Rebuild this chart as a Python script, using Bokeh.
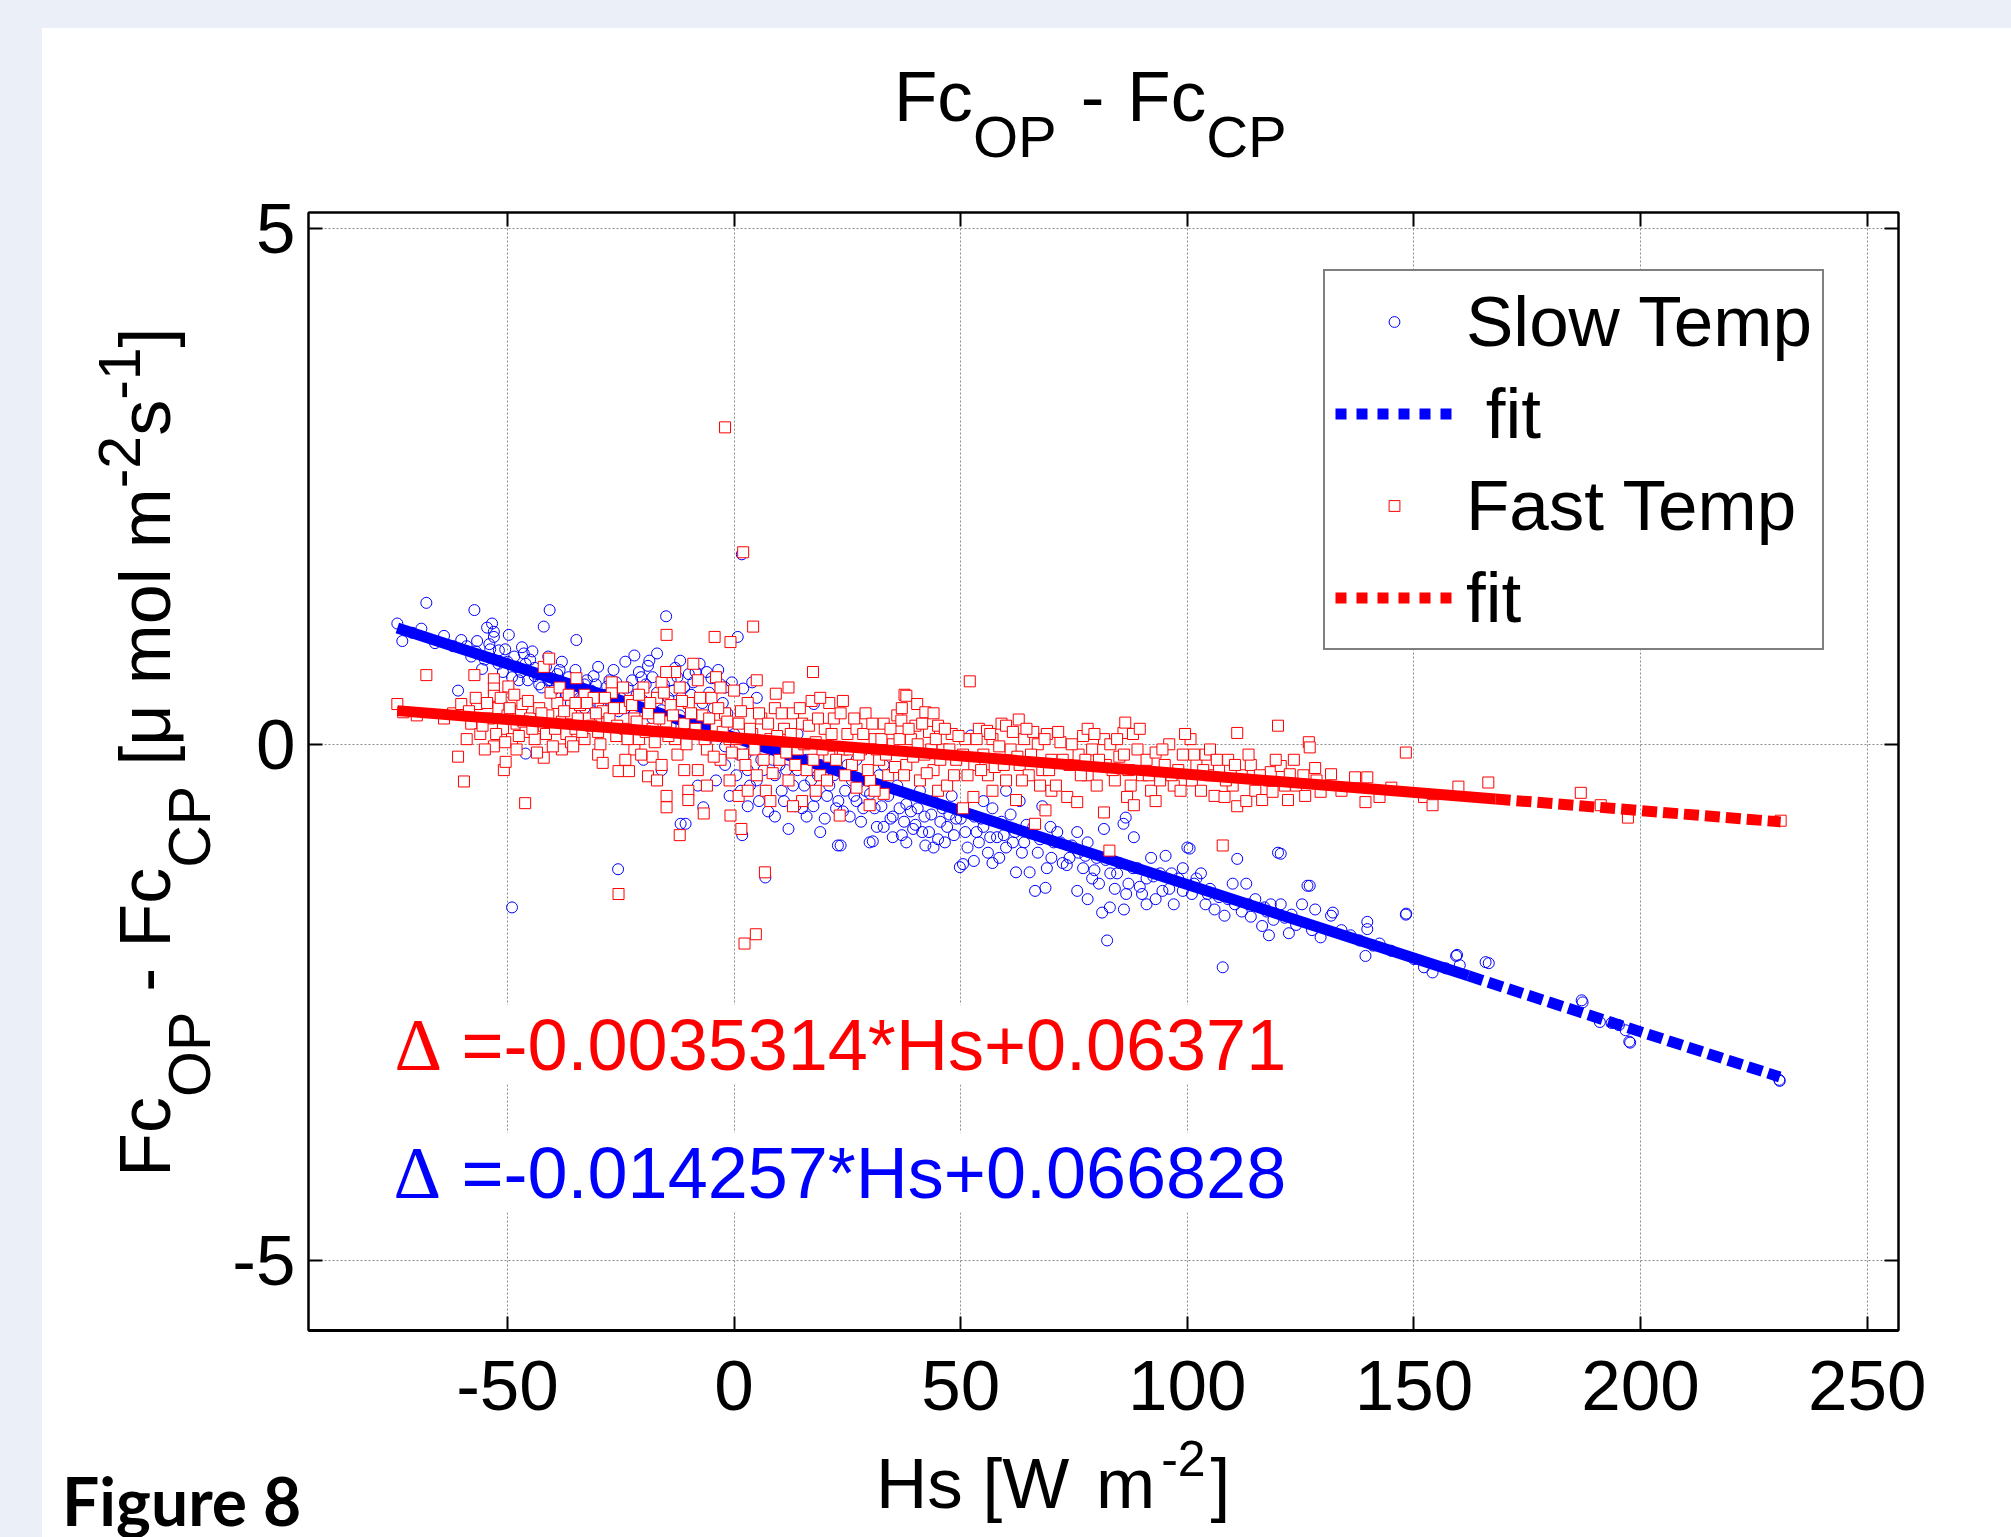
from bokeh.plotting import figure
from bokeh.models import (Label, LinearAxis, FixedTicker, Range1d, Legend, LegendItem,
                          ColumnDataSource, Div)
from bokeh.layouts import column, row
from bokeh.embed import file_html
from bokeh.resources import INLINE

# ---------------- data ----------------
# Slow Temp: (Hs [W m-2], Fc_OP - Fc_CP [umol m-2 s-1])
slow_temp = [
    (-74.3, 1.17), (-73.2, 1.00), (-71.0, 1.08), (-69.0, 1.12), (-67.9, 1.37), (-66.0, 0.98),
    (-64.0, 1.05), (-62.0, 0.95), (-60.9, 0.52), (-60.2, 1.01),
    (-59.0, 0.95), (-58.0, 0.85), (-57.3, 1.30), (-57.0, 0.90), (-56.7, 1.00), (-55.6, 0.73),
    (-55.0, 0.82), (-54.5, 1.13), (-54.0, 0.97), (-53.8, 0.92), (-53.4, 1.17), (-53.0, 1.09),
    (-53.0, 1.04), (-52.0, 0.78), (-51.9, 0.91), (-51.0, 0.70), (-50.0, 0.80), (-49.7, 1.06),
    (-49.0, 0.65), (-49.0, -1.58), (-48.0, 0.75), (-47.0, 0.70), (-46.8, 0.94), (-46.4, 0.88),
    (-46.0, -0.09), (-45.5, 0.62), (-45.0, 0.82), (-44.0, 0.74),
    (-44.0, 0.66), (-43.0, 0.58), (-42.0, 0.71), (-42.0, 1.14), (-41.0, 0.62), (-41.0, 0.85),
    (-40.7, 1.30), (-40.0, 0.52), (-39.0, 0.68), (-38.0, 0.60), (-38.0, 0.80), (-37.0, 0.48),
    (-36.0, 0.55), (-36.0, 0.40), (-35.0, 0.72), (-34.8, 1.01), (-34.0, 0.45), (-33.0, 0.58),
    (-33.0, 0.35), (-32.0, 0.50), (-31.0, 0.66), (-30.0, 0.40), (-30.0, 0.75), (-29.0, 0.47),
    (-28.0, 0.56), (-27.0, 0.36), (-26.0, 0.60), (-25.6, -1.21), (-25.0, 0.45),
    (-26.6, 0.72), (-24.0, 0.80), (-24.0, 0.35), (-22.0, 0.86), (-22.0, 0.30), (-21.0, 0.70),
    (-20.0, 0.42), (-20.0, -0.15), (-19.0, 0.76), (-18.7, 0.81), (-18.0, 0.25), (-17.0, 0.88),
    (-16.0, 0.33), (-16.0, -0.25), (-15.0, 1.24), (-14.0, 0.62), (-14.0, 0.18), (-13.0, 0.74),
    (-12.0, 0.28), (-11.9, 0.81), (-11.8, -0.77), (-10.7, -0.77), (-10.0, 0.68), (-10.0, 0.10),
    (-9.0, 0.60), (-8.0, 0.22), (-8.0, -0.40), (-7.6, 0.78), (-6.8, -0.61), (-6.0, 0.70),
    (-6.0, 0.05), (-5.0, 0.64), (-4.0, 0.15), (-4.0, -0.35), (-3.0, 0.58), (-2.0, 0.55),
    (-2.0, -0.02), (-2.0, -0.20), (-1.0, -0.50), (0.0, 0.10),
    (0.8, 1.04), (1.0, -0.10), (1.7, 1.84), (1.8, -0.88), (2.0, 0.54), (2.0, 0.05), (3.0, -0.25),
    (3.0, -0.60), (4.0, 0.60), (4.0, -0.05), (5.0, 0.45), (5.0, -0.35), (6.0, -0.15), (6.9, -1.29),
    (7.0, -0.45), (8.0, 0.00), (9.0, -0.30), (9.0, -0.70), (10.0, -0.20), (11.0, -0.55),
    (12.0, -0.10), (12.0, -0.82), (13.0, -0.40), (14.0, -0.25), (14.0, 0.10), (15.0, -0.62),
    (16.0, -0.15), (16.0, -0.70), (17.0, -0.35), (17.6, 0.39), (18.0, -0.50), (19.0, -0.20),
    (19.0, -0.85), (20.0, -0.72), (21.0, -0.40), (21.0, -0.05), (22.0, -0.30), (22.9, -0.98),
    (23.0, -0.55), (23.5, -0.98), (24.0, -0.65), (25.0, -0.20),
    (26.0, -0.35), (27.0, -0.55), (27.0, -0.15), (28.0, -0.75), (29.0, -0.45), (29.9, -0.95),
    (30.6, -0.94), (31.0, -0.62), (32.0, -0.30), (33.0, -0.80), (33.0, -0.20), (34.0, -0.50),
    (35.0, -0.70), (35.0, -0.90), (36.0, -0.40), (37.0, -0.88), (38.0, -0.58), (38.0, -0.95),
    (39.0, -0.65), (40.0, -0.78), (41.0, -0.45), (42.0, -0.70), (42.2, -0.98), (43.0, -0.85),
    (44.0, -0.55), (44.0, -1.00), (45.0, -0.92), (46.0, -0.62), (47.0, -0.80), (48.0, -0.50),
    (49.0, -0.72), (49.8, -1.19), (50.5, -1.16), (52.9, -1.13),
    (51.0, -0.85), (52.2, 0.085), (53.0, -0.70), (54.0, -0.95), (55.0, -0.80), (55.0, -0.55),
    (56.0, -1.05), (57.0, -0.62), (57.0, -1.15), (58.0, -0.90), (59.0, -0.75), (60.0, -1.00),
    (60.0, -0.45), (61.0, -0.68), (62.0, -0.85), (62.2, -1.24), (63.0, -0.55), (64.0, -0.95),
    (65.2, -1.24), (66.0, -0.80), (66.4, -1.42), (67.0, -1.05), (68.0, -0.60), (68.7, -1.39),
    (69.8, -0.80), (70.0, -1.10), (71.3, -0.85), (72.0, -0.95), (73.4, -1.17), (74.0, -1.10),
    (75.7, -1.42), (75.7, -0.85),
    (76.0, -1.05), (77.0, -1.20), (78.0, -0.95), (78.0, -1.50), (79.0, -1.30), (80.0, -1.10),
    (81.2, -1.63), (81.6, -0.82), (82.3, -1.90), (82.9, -1.58), (83.0, -1.25), (84.0, -1.40),
    (85.0, -1.15), (85.9, -0.77), (86.0, -1.60), (86.4, -0.71), (87.0, -1.35), (88.2, -0.90),
    (89.0, -1.20), (90.0, -1.45), (91.0, -1.30), (91.0, -1.55), (92.0, -1.10), (93.0, -1.50),
    (94.0, -1.25), (95.2, -1.08), (96.0, -1.40), (97.0, -1.55), (98.0, -1.30), (99.0, -1.20),
    (100.0, -1.00), (100.5, -1.01),
    (101.0, -1.45), (102.0, -1.30), (103.0, -1.25), (104.0, -1.55), (105.0, -1.40), (106.0, -1.60),
    (107.8, -2.16), (108.2, -1.66), (109.0, -1.50), (110.0, -1.35), (111.0, -1.11), (112.0, -1.62),
    (113.0, -1.35), (114.0, -1.67), (115.0, -1.50), (116.5, -1.76), (117.0, -1.58), (118.0, -1.85),
    (118.4, -1.55), (119.0, -1.70), (120.0, -1.05), (120.6, -1.55), (120.6, -1.06), (122.4, -1.83),
    (123.0, -1.65), (125.3, -1.55), (126.5, -1.37), (127.0, -1.37), (128.2, -1.60), (129.4, -1.87),
    (131.7, -1.66), (132.1, -1.63), (134.0, -1.80), (136.0, -1.85), (138.0, -1.90), (139.3, -2.05),
    (139.7, -1.72), (139.7, -1.79), (141.0, -1.95), (142.4, -1.93), (145.0, -2.00), (148.2, -1.65),
    (148.3, -1.64), (150.0, -2.08), (152.2, -2.16), (154.1, -2.21), (157.0, -2.17), (159.3, -2.05),
    (159.5, -2.04), (160.1, -2.14), (165.8, -2.11), (166.5, -2.12),
    (187.0, -2.48), (187.2, -2.50), (191.0, -2.69), (193.6, -2.70), (195.2, -2.72), (196.7, -2.77),
    (197.5, -2.88), (197.7, -2.89), (230.6, -3.25), (230.7, -3.26),
    # denser part of the cloud
    (-50.5, 0.92), (-48.5, 0.85), (-47.5, 0.62), (-46.0, 0.78), (-44.5, 0.90), (-43.5, 0.68),
    (-42.5, 0.55), (-41.5, 0.75), (-40.5, 0.62), (-39.5, 0.48), (-38.5, 0.72), (-37.5, 0.58),
    (-36.5, 0.65), (-35.5, 0.50), (-34.5, 0.60), (-33.5, 0.42), (-32.5, 0.62), (-31.5, 0.52),
    (-30.5, 0.58), (-29.5, 0.38), (-28.5, 0.48), (-27.5, 0.62), (-26.5, 0.50), (-25.5, 0.32),
    (-23.5, 0.55), (-22.5, 0.62), (-21.5, 0.48), (-20.5, 0.65), (-19.5, 0.58), (-18.0, 0.65),
    (-17.0, 0.50), (-15.5, 0.58), (-14.5, 0.45), (-13.5, 0.52), (-12.5, 0.65), (-11.0, 0.55),
    (-9.5, 0.48), (-8.5, 0.70), (-7.0, 0.40), (-5.5, 0.50), (-4.5, 0.35), (-3.5, 0.72),
    (-2.5, 0.40), (-1.5, 0.30), (-0.5, 0.60),
    (0.5, -0.30), (1.5, -0.45), (2.5, -0.10), (3.5, -0.40), (5.5, -0.55), (6.5, -0.25),
    (7.5, -0.65), (8.5, -0.15), (10.5, -0.45), (11.5, -0.25), (13.5, -0.60), (15.5, -0.40),
    (17.5, -0.60), (18.5, -0.30), (20.5, -0.50), (22.5, -0.62), (24.5, -0.45), (25.5, -0.70),
    (26.5, -0.50), (28.5, -0.62), (30.0, -0.48), (31.5, -0.80), (32.5, -0.60), (34.5, -0.72),
    (36.5, -0.62), (37.5, -0.75), (39.5, -0.82), (40.5, -0.62), (41.5, -0.85), (43.5, -0.68),
    (45.5, -0.75), (46.5, -0.95), (47.5, -0.68), (48.5, -0.88),
    (50.0, -0.72), (51.5, -1.00), (53.5, -0.85), (54.5, -0.72), (56.5, -0.90), (58.5, -1.10),
    (59.5, -0.88), (61.5, -0.95), (63.5, -1.05), (64.5, -0.78), (67.5, -0.92), (69.0, -1.20),
    (70.5, -0.95), (72.5, -1.15), (74.5, -0.98), (77.5, -1.08), (79.5, -1.22), (80.5, -1.35),
    (82.0, -1.12), (84.5, -1.25), (86.5, -1.45), (88.0, -1.20), (89.5, -1.38), (92.5, -1.28),
    (94.5, -1.42), (96.5, -1.25), (99.0, -1.42), (101.5, -1.35), (104.5, -1.45), (107.0, -1.48),
    (110.5, -1.55), (113.5, -1.55), (117.5, -1.62), (121.5, -1.68), (124.0, -1.75), (127.5, -1.80),
]

# Fast Temp
fast_temp = [
    (-74.3, 0.39), (-73.0, 0.31), (-70.0, 0.28), (-67.9, 0.67), (-64.0, 0.25), (-62.0, 0.30),
    (-60.9, -0.12), (-60.2, 0.39), (-59.6, -0.36), (-58.0, 0.20), (-57.3, 0.67), (-56.7, 0.39),
    (-56.0, 0.10),
    (-54.0, 0.25), (-53.0, 0.63), (-53.0, 0.54), (-53.0, 0.47), (-53.0, -0.02), (-52.0, 0.35),
    (-51.0, 0.15), (-50.8, -0.25), (-50.4, -0.17), (-50.0, 0.28), (-49.8, 0.56), (-49.0, 0.05),
    (-48.0, 0.20), (-48.0, -0.05), (-47.0, 0.32), (-46.7, 0.39), (-46.1, -0.57), (-46.0, 0.12),
    (-45.0, 0.25), (-44.0, 0.05), (-43.0, 0.35), (-42.0, 0.18), (-42.0, -0.13), (-42.0, 0.75),
    (-41.0, 0.28), (-40.8, 0.83),
    (-39.0, 0.40), (-38.0, 0.22), (-38.0, -0.05), (-37.0, 0.10), (-36.0, 0.30), (-36.0, 0.02),
    (-35.0, 0.15), (-34.8, 0.64), (-34.0, 0.38), (-33.0, 0.05), (-33.0, 0.48), (-32.0, 0.25),
    (-31.0, 0.45), (-30.0, 0.12), (-30.0, -0.10), (-29.0, 0.32), (-28.0, 0.20), (-27.0, 0.50),
    (-27.0, 0.60), (-26.0, 0.08), (-25.5, -0.26), (-25.5, -1.45), (-25.0, 0.35), (-24.0, 0.15),
    (-23.2, -0.26), (-23.0, 0.42), (-22.0, 0.25), (-22.0, -0.05), (-21.0, 0.05), (-20.0, 0.55),
    (-19.0, -0.31), (-19.0, 0.30), (-18.0, 0.15), (-18.0, -0.12), (-17.0, 0.45), (-16.0, 0.60),
    (-16.0, -0.20), (-15.0, 0.22), (-14.9, 1.06), (-14.9, -0.50), (-14.9, -0.61), (-14.0, 0.38),
    (-13.0, 0.05), (-13.0, 0.70), (-12.0, -0.88), (-12.0, 0.55), (-11.0, 0.20), (-10.1, -0.45),
    (-10.1, -0.54), (-10.0, 0.40), (-9.0, 0.10), (-8.0, 0.62), (-8.0, -0.25), (-7.0, 0.28),
    (-6.7, -0.67), (-6.0, -0.05), (-5.0, 0.45), (-4.3, 1.04), (-4.0, 0.18), (-4.0, 0.65),
    (-3.0, -0.15), (-2.0, 3.07), (-2.0, 0.30), (-1.0, 0.05), (-1.0, -0.35), (-0.8, 0.99),
    (-0.8, -0.69), (0.0, 0.52),
    (1.0, 0.20), (1.0, -0.50), (1.6, -0.82), (2.0, 1.86), (2.0, -0.10), (2.3, -1.93), (3.0, 0.40),
    (3.0, -0.45), (4.0, 0.10), (4.2, 1.14), (4.8, -1.84), (5.0, -0.30), (5.0, 0.62), (6.0, 0.25),
    (6.8, -1.24), (7.0, -0.45), (8.0, 0.05), (9.0, 0.35), (9.2, 0.49), (10.0, -0.15), (11.0, 0.15),
    (12.0, -0.35), (12.0, 0.55), (13.0, 0.30), (14.0, -0.05), (15.0, 0.20), (15.0, -0.55),
    (16.0, -0.25), (17.1, 0.42), (17.4, 0.70), (18.0, 0.02), (18.0, -0.45), (19.0, -0.30),
    (20.0, 0.15), (21.0, -0.12), (21.0, 0.40), (22.0, 0.25), (23.3, -0.69), (24.0, -0.05),
    (25.0, 0.10),
    (26.0, -0.20), (27.0, 0.15), (27.0, -0.42), (28.0, -0.05), (29.0, 0.30), (29.9, -0.59),
    (30.0, -0.35), (31.0, 0.05), (32.0, -0.15), (33.0, 0.20), (33.0, -0.48), (34.0, -0.30),
    (35.0, 0.00), (36.0, 0.28), (36.9, 0.23), (37.6, 0.48), (38.0, 0.47), (38.0, -0.20),
    (39.0, 0.05), (40.0, 0.18), (40.4, 0.39), (41.0, -0.35), (42.0, -0.10), (42.2, 0.31),
    (43.0, 0.12), (44.0, -0.25), (45.0, 0.18), (45.0, -0.45), (46.0, -0.05), (47.0, -0.40),
    (48.0, 0.10), (49.0, -0.15), (50.5, -0.62),
    (51.0, 0.05), (52.0, 0.61), (52.8, -0.51), (53.0, -0.20), (54.0, 0.15), (55.0, -0.10),
    (55.8, 0.13), (56.0, -0.30), (57.0, 0.05), (57.0, -0.45), (58.0, -0.15), (59.0, 0.20),
    (60.0, -0.35), (60.0, 0.18), (61.0, -0.05), (62.2, -0.54), (62.8, 0.24), (63.0, -0.20),
    (64.0, 0.05), (65.0, -0.30), (66.0, 0.12), (66.4, -0.77), (67.0, 0.00), (68.0, -0.25),
    (68.7, -0.64), (69.0, 0.10), (70.0, -0.15), (70.0, -0.45), (71.0, -0.40), (72.0, 0.02),
    (73.5, -0.51), (74.0, -0.20), (75.7, -0.56),
    (76.0, -0.10), (77.0, 0.08), (78.0, -0.30), (78.0, 0.15), (79.0, -0.05), (80.0, -0.40),
    (81.6, 0.05), (81.6, -0.66), (82.0, -0.20), (82.8, -1.03), (83.0, 0.00), (84.0, -0.35),
    (85.0, -0.12), (85.9, 0.11), (86.3, 0.21), (86.7, -0.51), (87.0, -0.25), (88.0, 0.10),
    (88.2, -0.59), (89.0, -0.05), (90.0, -0.30), (91.0, -0.15), (92.0, -0.45), (93.0, -0.08),
    (93.0, -0.55), (94.0, -0.35), (95.0, -0.20), (96.0, 0.00), (97.0, -0.40), (98.0, -0.25),
    (99.0, -0.10), (100.7, 0.05),
    (101.0, -0.35), (102.0, -0.20), (103.0, -0.45), (104.0, -0.10), (105.0, -0.30), (105.0, -0.05),
    (106.0, -0.50), (107.0, -0.25), (107.8, -0.98), (108.2, -0.51), (109.0, -0.15), (110.0, -0.40),
    (111.0, 0.11), (111.0, -0.60), (112.0, -0.30), (113.0, -0.55), (114.0, -0.20), (115.0, -0.45),
    (116.5, -0.54), (118.0, -0.35), (118.4, -0.27), (118.8, -0.46), (120.0, 0.18), (120.6, -0.21),
    (122.2, -0.54), (122.6, -0.29), (124.0, -0.40), (125.6, -0.30), (126.8, 0.02), (127.0, -0.03),
    (128.2, -0.23), (129.4, -0.46),
    (131.7, -0.29), (134.0, -0.45), (137.0, -0.32), (139.3, -0.56), (139.7, -0.32), (142.4, -0.51),
    (145.0, -0.42), (148.2, -0.08), (152.2, -0.51), (154.1, -0.59), (159.8, -0.41), (166.4, -0.37),
    (186.8, -0.47), (191.2, -0.59), (197.2, -0.71), (230.9, -0.74),
    # denser part of the cloud
    (-59.0, 0.05), (-58.5, 0.32), (-57.0, 0.45), (-55.5, 0.18), (-55.0, -0.05), (-54.5, 0.40),
    (-52.5, 0.10), (-51.5, 0.45), (-50.5, 0.02), (-49.5, 0.35), (-48.5, 0.48), (-47.5, 0.08),
    (-46.5, 0.22), (-45.5, 0.42), (-44.5, 0.15), (-43.5, -0.08), (-42.5, 0.30), (-41.5, 0.10),
    (-40.5, 0.50), (-40.0, -0.02),
    (-39.5, 0.15), (-38.5, 0.55), (-37.5, 0.32), (-36.5, 0.48), (-35.5, -0.02), (-34.5, 0.25),
    (-33.5, 0.12), (-32.5, 0.40), (-31.5, 0.18), (-30.5, 0.30), (-29.5, 0.00), (-28.5, 0.45),
    (-27.5, 0.25), (-26.5, 0.35), (-25.8, 0.18), (-24.5, 0.55), (-23.5, 0.05), (-22.5, 0.38),
    (-21.5, 0.22), (-20.5, -0.10), (-21.0, 0.48), (-29.0, -0.18), (-35.0, 0.40), (-24.0, -0.15),
    (-19.5, 0.12), (-18.5, 0.40), (-17.5, 0.02), (-16.5, 0.25), (-15.5, 0.50), (-14.5, 0.08),
    (-13.5, 0.28), (-12.5, -0.10), (-11.5, 0.42), (-10.5, 0.00), (-9.5, 0.30), (-8.5, 0.15),
    (-7.5, 0.45), (-6.5, 0.05), (-5.5, 0.25), (-4.5, -0.12), (-3.5, 0.35), (-2.5, 0.12),
    (-1.5, 0.22), (-0.5, -0.08), (-17.0, -0.35), (-11.0, -0.25), (-6.0, -0.40), (-3.0, 0.55),
    (-9.0, 0.78), (-15.0, 0.70),
    (0.5, 0.05), (1.5, 0.32), (2.5, -0.20), (3.5, 0.15), (4.5, -0.05), (5.5, 0.30), (6.5, -0.15),
    (7.5, 0.20), (8.5, -0.28), (9.5, 0.08), (10.5, 0.30), (11.5, -0.08), (12.5, 0.10),
    (13.5, -0.20), (14.5, 0.35), (15.5, 0.00), (16.5, 0.18), (17.5, -0.15), (18.5, 0.25),
    (19.5, -0.05), (20.5, -0.35), (21.5, 0.10), (22.5, -0.15), (23.5, 0.30), (24.5, -0.30),
    (8.0, -0.55), (13.0, -0.60), (19.0, 0.45), (24.0, 0.42),
    (25.5, -0.05), (26.5, 0.25), (27.5, -0.10), (28.5, 0.10), (29.5, -0.25), (30.5, 0.20),
    (31.5, -0.05), (32.5, 0.05), (33.5, -0.10), (34.5, 0.15), (35.5, -0.22), (36.5, 0.05),
    (37.5, -0.30), (38.5, 0.15), (39.5, -0.12), (40.5, 0.00), (41.5, 0.20), (42.5, -0.28),
    (43.5, -0.05), (44.5, 0.05), (45.5, -0.15), (46.5, 0.15), (47.5, -0.05), (48.5, -0.30),
    (49.5, 0.08), (31.0, -0.45), (37.0, 0.35), (44.0, 0.30),
    (50.5, -0.10), (51.5, -0.30), (53.5, 0.05), (54.5, -0.25), (56.5, 0.10), (57.5, -0.22),
    (58.5, -0.02), (59.5, -0.20), (61.5, 0.12), (62.5, -0.12), (63.5, -0.35), (64.5, 0.15),
    (65.5, -0.10), (67.5, -0.40), (68.5, 0.05), (69.5, -0.25), (71.5, 0.12), (72.5, -0.15),
    (74.5, 0.00), (76.5, -0.30), (77.5, -0.15), (79.5, 0.10),
    (80.5, -0.15), (83.5, -0.25), (84.5, 0.05), (86.0, -0.10), (87.5, -0.40), (89.5, 0.15),
    (91.5, -0.30), (94.5, -0.05), (96.5, -0.30), (98.5, -0.45), (99.5, 0.10), (101.5, -0.10),
    (103.5, -0.25), (106.5, -0.15), (108.5, -0.35), (110.5, -0.20), (113.5, -0.10), (116.0, -0.30),
    (119.5, -0.15), (121.5, -0.40), (123.5, -0.15), (126.0, -0.50), (128.5, -0.35),
]

# linear fits printed on the chart: (slope, intercept)
slow_fit = (-0.014257, 0.066828)
fast_fit = (-0.0035314, 0.06371)
# Hs beyond which the fit line is drawn dotted (sparse data)
slow_fit_dotted_from = 162.0
fast_fit_dotted_from = 168.0

x_ticks = [-50, 0, 50, 100, 150, 200, 250]
y_ticks = [-5, 0, 5]
x_range = (-93.9, 256.9)
y_range = (-5.678, 5.151)

slow_eq = "=-0.014257*Hs+0.066828"
fast_eq = "=-0.0035314*Hs+0.06371"

# ---------------- geometry (page px) ----------------
PAGE_W, PAGE_H = 2011, 1537
FL, FT, FW, FH = 308, 212, 1590, 1118      # plot frame
FB = FT + FH
TOP_H = 170          # title strip
LEFT_W = 224         # y-label strip
FIG_BOTTOM = 1442    # bottom of the figure (x-label strip below)
BG = "#EBEFF7"
SANS = "Liberation Sans"
CSS_SANS = "'Liberation Sans', Arial, sans-serif"

p = figure(frame_width=FW, frame_height=FH,
           min_border_left=FL - LEFT_W, min_border_top=FT - TOP_H,
           min_border_right=PAGE_W - (FL + FW), min_border_bottom=FIG_BOTTOM - FB,
           x_range=Range1d(*x_range), y_range=Range1d(*y_range),
           output_backend="svg", toolbar_location=None,
           x_axis_location=None, y_axis_location=None, margin=0)
p.border_fill_color = "white"
p.background_fill_color = "white"
p.outline_line_color = "black"
p.outline_line_width = 2

xt = FixedTicker(ticks=x_ticks)
yt = FixedTicker(ticks=y_ticks)

def mk_axis(ticker, ticks, show_labels, lw):
    ax = LinearAxis(ticker=ticker)
    ax.axis_line_color = "black"
    ax.axis_line_width = lw
    ax.major_tick_in = 14
    ax.major_tick_out = 0
    ax.major_tick_line_width = 2
    ax.major_tick_line_color = "black"
    ax.minor_tick_line_color = None
    if show_labels:
        ax.major_label_text_font = SANS
        ax.major_label_text_font_size = "71px"
        ax.major_label_text_color = "black"
        ax.major_label_overrides = {t: str(t) for t in ticks}
    else:
        ax.major_label_text_font_size = "0px"
        ax.major_label_text_color = None
        ax.major_label_standoff = 0
    return ax

bx = mk_axis(xt, x_ticks, True, 3)
bx.major_label_standoff = 30
ly = mk_axis(yt, y_ticks, True, 2)
ly.major_label_standoff = 13
p.add_layout(bx, "below")
p.add_layout(ly, "left")
p.add_layout(mk_axis(xt, x_ticks, False, 2), "above")
p.add_layout(mk_axis(yt, y_ticks, False, 2), "right")

p.xgrid.ticker = xt
p.ygrid.ticker = yt
for g in (p.xgrid[0], p.ygrid[0]):
    g.grid_line_color = "#8a8a8a"
    g.grid_line_dash = "2 2"
    g.grid_line_width = 1

# ---------------- marks ----------------
slow_hs = [pt[0] for pt in slow_temp]
slow_df = [pt[1] for pt in slow_temp]
fast_hs = [pt[0] for pt in fast_temp]
fast_df = [pt[1] for pt in fast_temp]

def fit_segments(hs, fit, split):
    a, b = fit
    lo, hi = min(hs), max(hs)
    solid = ColumnDataSource(dict(x=[lo, split], y=[a * lo + b, a * split + b]))
    dotted = ColumnDataSource(dict(x=[split, hi], y=[a * split + b, a * hi + b]))
    return solid, dotted

r_slow = p.scatter(slow_hs, slow_df, marker="circle", size=11, line_color="#0000FF",
                   fill_color=None, line_width=1)
s_sol, s_dot = fit_segments(slow_hs, slow_fit, slow_fit_dotted_from)
p.line("x", "y", source=s_sol, line_color="#0000FF", line_width=11)
p.line("x", "y", source=s_dot, line_color="#0000FF", line_width=11, line_dash="15 6")

r_fast = p.scatter(fast_hs, fast_df, marker="square", size=11, line_color="#FF0000",
                   fill_color="white", line_width=1)
f_sol, f_dot = fit_segments(fast_hs, fast_fit, fast_fit_dotted_from)
p.line("x", "y", source=f_sol, line_color="#FF0000", line_width=11)
p.line("x", "y", source=f_dot, line_color="#FF0000", line_width=11, line_dash="15 6")

# legend samples for the fit lines (a single NaN point: nothing is drawn in the plot)
nan = float("nan")
lg_slow_fit = p.line("x", "y", source=ColumnDataSource(dict(x=[nan], y=[nan])),
                     line_color="#0000FF", line_width=11, line_dash="11 10")
lg_fast_fit = p.line("x", "y", source=ColumnDataSource(dict(x=[nan], y=[nan])),
                     line_color="#FF0000", line_width=11, line_dash="11 10")

legend = Legend(items=[LegendItem(label="Slow Temp", renderers=[r_slow]),
                       LegendItem(label=" fit", renderers=[lg_slow_fit]),
                       LegendItem(label="Fast Temp", renderers=[r_fast]),
                       LegendItem(label="fit", renderers=[lg_fast_fit])],
                location=(1323 - FL, FB - 650), orientation="vertical",
                border_line_color="black", border_line_width=2,
                background_fill_color="white", background_fill_alpha=1.0,
                padding=10, spacing=11, margin=0,
                glyph_width=118, glyph_height=27, label_height=80, label_standoff=13,
                label_text_font=SANS, label_text_font_size="71px",
                label_text_color="black")
p.add_layout(legend, "center")

# fit equations inside the frame (Label baseline lands ~28 px below the requested y)
LBL_SHIFT = 28
def lab(text, px, py, size, color, font=SANS):
    p.add_layout(Label(x=px - FL, y=FB - (py - LBL_SHIFT), x_units="screen", y_units="screen",
                       text=text, text_font=font, text_font_size=f"{size}px",
                       text_color=color, text_align="left", text_baseline="alphabetic",
                       background_fill_color="white"))

lab("Δ", 394, 1072, 74, "#FF0000", font="Liberation Serif")
lab(fast_eq, 461, 1072, 72, "#FF0000")
lab("Δ", 393, 1200, 74, "#0000FF", font="Liberation Serif")
lab(slow_eq, 461, 1200, 72, "#0000FF")

# ---------------- texts around the plot (HTML, with real sub/superscripts) ----------------
SUB = "font-size:58px;position:relative;top:36px"
title_div = Div(width=PAGE_W, height=TOP_H, margin=0, text=(
    f'<div style="position:relative;width:{PAGE_W}px;height:{TOP_H}px;background:{BG};overflow:hidden">'
    f'<div style="position:absolute;left:42px;top:28px;right:0;bottom:0;background:white"></div>'
    f'<div style="position:absolute;left:894px;top:61px;white-space:nowrap;font-family:{CSS_SANS};'
    f'font-size:71px;line-height:71px;color:black">'
    f'Fc<span style="{SUB}">OP</span><span style="padding:0 23px 0 24px">-</span>'
    f'Fc<span style="{SUB}">CP</span></div></div>'))

FIG_H = FIG_BOTTOM - TOP_H
YSUB = "font-size:59px;position:relative;top:40px"
YSUP = "font-size:59px;position:relative;top:-30px"
ylab_div = Div(width=LEFT_W, height=FIG_H, margin=0, text=(
    f'<div style="position:relative;width:{LEFT_W}px;height:{FIG_H}px;background:white;overflow:hidden">'
    f'<div style="position:absolute;left:0;top:0;width:42px;height:{FIG_H}px;background:{BG}"></div>'
    f'<div style="position:absolute;left:0;top:0;transform-origin:0 0;'
    f'transform:translate(109px,{1177 - TOP_H}px) rotate(-90deg);white-space:nowrap;'
    f'font-family:{CSS_SANS};font-size:72px;line-height:72px;color:black">'
    f'Fc<span style="{YSUB}">OP</span> - Fc<span style="{YSUB}">CP</span> [μ mol m'
    f'<span style="{YSUP}">-2</span>s<span style="{YSUP}">-1</span>]</div></div>'))

BOT_H = PAGE_H - FIG_BOTTOM
xlab_div = Div(width=PAGE_W, height=BOT_H, margin=0, styles={"overflow": "visible"}, text=(
    f'<div style="position:relative;width:{PAGE_W}px;height:{BOT_H}px;background:white;overflow:visible">'
    f'<div style="position:absolute;left:0;top:0;width:42px;height:{BOT_H}px;background:{BG}"></div>'
    f'<div style="position:absolute;left:876px;top:{1508 - FIG_BOTTOM - 60}px;white-space:nowrap;'
    f'font-family:{CSS_SANS};font-size:71px;line-height:71px;color:black">'
    f'Hs [W <span style="padding-left:7px">m</span>'
    f'<span style="font-size:50px;position:relative;top:-32px;padding-left:6px">-2</span>'
    f'<span style="padding-left:5px">]</span></div>'
    f'<div style="position:absolute;left:62px;top:{1526 - FIG_BOTTOM - 58}px;white-space:nowrap;'
    f'font-family:Lato, sans-serif;font-weight:bold;font-size:66px;line-height:66px;color:black">'
    f'Figure 8</div></div>'))

layout = column(title_div, row(ylab_div, p, margin=0), xlab_div, margin=0)

open("out.html", "w").write(file_html(layout, INLINE))
